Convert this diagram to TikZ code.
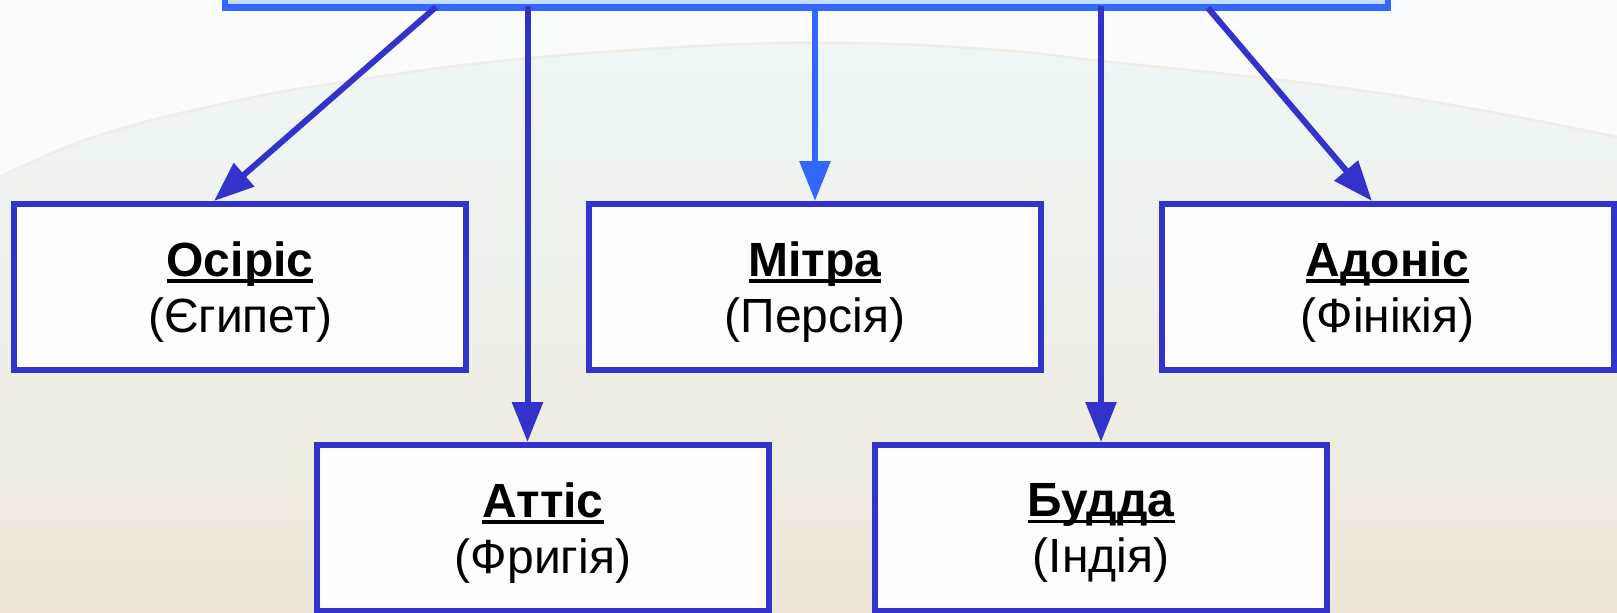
\documentclass[tikz,border=0pt]{standalone}
\usepackage{fontspec}
\setmainfont{Liberation Sans}
\usetikzlibrary{arrows.meta}
\definecolor{dkblue}{HTML}{3333CC}
\definecolor{ltblue}{HTML}{3366FF}
\definecolor{topfill}{HTML}{C2DDFF}
\definecolor{boxfill}{HTML}{FEFCFF}
\definecolor{bgtop}{HTML}{EEF8F9}
\definecolor{bgmid}{HTML}{F2F7F1}
\definecolor{bgbot}{HTML}{EEE7D9}
\definecolor{arccol}{HTML}{EEEDE6}
\newcommand\ulbox[1]{\setbox0=\hbox{#1}\rlap{\rule[-6.5pt]{\wd0}{3.5pt}}\box0}
\tikzset{
  godbox/.style={draw=dkblue, line width=6pt, fill=boxfill, minimum width=452pt, minimum height=166pt, inner sep=0pt},
  topbox/.style={draw=ltblue, line width=6.5pt, fill=topfill, minimum width=1163pt, minimum height=127pt, inner sep=0pt},
  godtext/.style={align=center, font=\fontsize{48}{56}\selectfont, inner sep=0pt, yshift=-5pt},
  arr/.style={draw=dkblue, line width=6pt, -{Triangle[length=40pt,width=30pt]}},
  arrl/.style={draw=ltblue, line width=6pt, -{Triangle[length=40pt,width=30pt]}},
}
\begin{document}
\begin{tikzpicture}[x=1pt,y=-1pt]
\useasboundingbox (0,0) rectangle (1617,613);
% background
\shade[top color=bgtop, middle color=bgmid, bottom color=bgbot] (0,0) rectangle (1617,613);
\fill[white, opacity=0.75] (0,0) -- plot[smooth, tension=0.7] coordinates {(0,177) (100,135) (240,100) (357,80) (510,60) (700,46) (850,43) (1000,50) (1102,61) (1321,85) (1480,110) (1617,137)} -- (1617,0) -- cycle;
\draw[arccol, line width=2.5pt] plot[smooth, tension=0.7] coordinates {(0,177) (100,135) (240,100) (357,80) (510,60) (700,46) (850,43) (1000,50) (1102,61) (1321,85) (1480,110) (1617,137)};
% top box
\node[topbox] (top) at (806.5,-56) {};
% boxes
\node[godbox] (os) at (240,287) {};
\node[godbox] (mi) at (815,287) {};
\node[godbox] (ad) at (1387.5,287) {};
\node[godbox] (at) at (543,528) {};
\node[godbox] (bu) at (1101,528) {};
\node[godtext] (ost) at (os.center) {\ulbox{\bfseries Осіріс}\\(Єгипет)};
\node[godtext] (mit) at (mi.center) {\ulbox{\bfseries Мітра}\\(Персія)};
\node[godtext] (adt) at (ad.center) {\ulbox{\bfseries Адоніс}\\(Фінікія)};
\node[godtext] (att) at (at.center) {\ulbox{\bfseries Аттіс}\\(Фригія)};
\node[godtext] (but) at (bu.center) {\ulbox{\bfseries Будда}\\(Індія)};
% connector start points on the top box
\coordinate (s1) at (436,7);
\coordinate (s2) at (527.5,6);
\coordinate (s4) at (1101,6);
\coordinate (s5) at (1208,8);
\coordinate (e1) at ([xshift=-26pt]os.north);
\coordinate (e5) at ([xshift=-15.5pt]ad.north);
% connectors
\draw[arr] (s1) -- (e1);
\draw[arr] (s2) -- (s2 |- at.north);
\draw[arrl] (mi.north |- top.south) -- (mi.north);
\draw[arr] (s4) -- (bu.north);
\draw[arr] (s5) -- (e5);
\end{tikzpicture}
\end{document}
